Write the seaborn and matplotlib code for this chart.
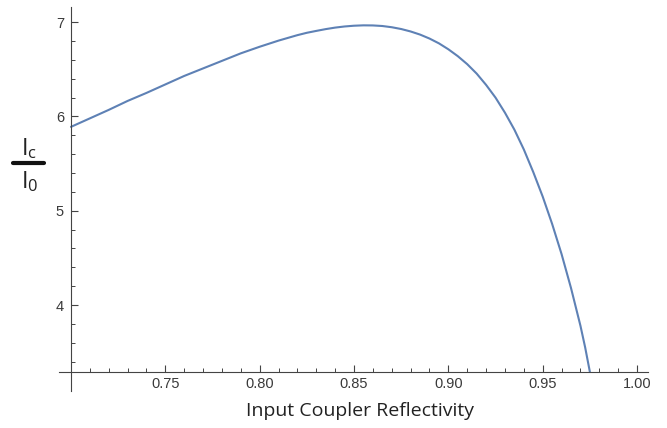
import numpy as np
import pandas as pd
import matplotlib
matplotlib.use("Agg")
import matplotlib.pyplot as plt
import seaborn as sns
from matplotlib.ticker import FixedLocator
from matplotlib.lines import Line2D

# --- Data ---
reflectivity = [0.70, 0.71, 0.72, 0.73, 0.74, 0.75, 0.76, 0.77, 0.78, 0.79,
                0.80, 0.81, 0.82, 0.825, 0.83, 0.835, 0.84, 0.845, 0.85,
                0.855, 0.86, 0.865, 0.87, 0.875, 0.88, 0.885, 0.89, 0.895,
                0.90, 0.905, 0.91, 0.915, 0.92, 0.925, 0.93, 0.935, 0.94,
                0.945, 0.95, 0.955, 0.96, 0.965, 0.97, 0.9725, 0.975]
intensity_ratio = [5.89, 5.98, 6.07, 6.165, 6.25, 6.34, 6.43, 6.51, 6.59, 6.67,
                   6.74, 6.805, 6.863, 6.888, 6.908, 6.927, 6.943, 6.955, 6.963,
                   6.967, 6.966, 6.96, 6.947, 6.928, 6.902, 6.869, 6.827, 6.776,
                   6.713, 6.64, 6.555, 6.455, 6.335, 6.20, 6.04, 5.86, 5.65,
                   5.41, 5.15, 4.86, 4.54, 4.18, 3.78, 3.55, 3.29]
x_major = [0.75, 0.80, 0.85, 0.90, 0.95, 1.00]
x_labels = ["0.75", "0.80", "0.85", "0.90", "0.95", "1.00"]
x_minor = [round(0.70 + 0.01 * i, 2) for i in range(1, 30)]
y_major = [4, 5, 6, 7]
y_minor = [round(3.4 + 0.2 * i, 1) for i in range(0, 18)]

LINE_COLOR = "#5e81b5"
AXIS_COLOR = "#444444"

sns.set_theme(style="white")
plt.rcParams["font.family"] = ["Liberation Sans", "DejaVu Sans"]

fig = plt.figure(figsize=(6.67, 4.28), dpi=100)
ax = fig.add_axes([0.0781, 0.0671, 0.9053, 0.925])

df = pd.DataFrame({"R": reflectivity, "ratio": intensity_ratio})
sns.lineplot(data=df, x="R", y="ratio", ax=ax, color=LINE_COLOR,
             linewidth=1.5)

ax.set_xlim(0.69, 1.01)
ax.set_ylim(3.0, 7.2)

# Mathematica-like crossing axes
for side in ["top", "right"]:
    ax.spines[side].set_visible(False)
ax.spines["left"].set_position(("data", 0.70))
ax.spines["bottom"].set_position(("data", 3.293))
ax.spines["left"].set_bounds(3.09, 7.16)
ax.spines["bottom"].set_bounds(0.6936, 1.006)
for side in ["left", "bottom"]:
    ax.spines[side].set_color(AXIS_COLOR)
    ax.spines[side].set_linewidth(0.8)

ax.xaxis.set_major_locator(FixedLocator(x_major))
ax.set_xticklabels(x_labels)
ax.xaxis.set_minor_locator(FixedLocator([v for v in x_minor if v not in x_major]))
ax.yaxis.set_major_locator(FixedLocator(y_major))
ax.yaxis.set_minor_locator(FixedLocator([v for v in y_minor if v not in y_major]))

ax.tick_params(axis="both", which="major", direction="in", length=5,
               width=0.8, color=AXIS_COLOR, labelsize=10.5,
               labelcolor="#3a3a3a")
ax.tick_params(axis="both", which="minor", direction="in", length=3,
               width=0.7, color=AXIS_COLOR)
ax.tick_params(axis="x", which="both", bottom=True, pad=4)
ax.tick_params(axis="y", which="both", left=True, pad=5)
ax.grid(False)

ax.set_xlabel("")
ax.set_ylabel("")

fig.text(0.54, 0.04, "Input Coupler Reflectivity", ha="center",
         va="center", fontsize=14, family=["Open Sans", "DejaVu Sans"],
         color="#222222")

# stacked I_c / I_0 label
fig.text(0.044, 0.652, r"$\mathregular{I_c}$", ha="center", va="center",
         fontsize=17, family=["Open Sans", "DejaVu Sans"], color="#222222")
fig.text(0.044, 0.576, r"$\mathregular{I_0}$", ha="center", va="center",
         fontsize=17, family=["Open Sans", "DejaVu Sans"], color="#222222")
fig.add_artist(Line2D([0.019, 0.066], [0.619, 0.619], color="#111111",
                      linewidth=3.0, transform=fig.transFigure))

fig.savefig("out.png", dpi=100)
